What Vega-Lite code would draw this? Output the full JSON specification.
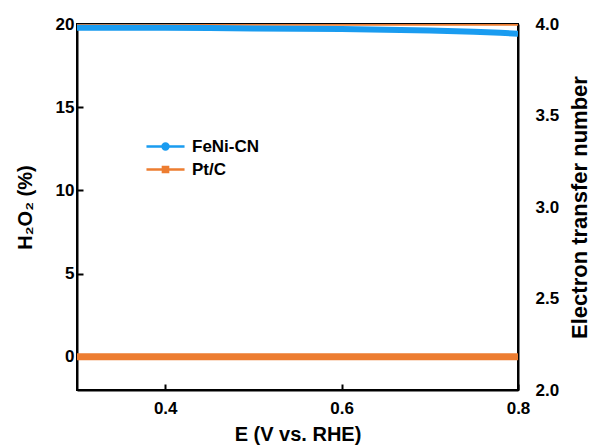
{
  "$schema": "https://vega.github.io/schema/vega-lite/v6.json",
  "width": 441,
  "height": 366,
  "autosize": {"type": "none"},
  "padding": {"left": 77, "top": 24, "right": 77, "bottom": 58},
  "background": "white",
  "config": {
    "font": "Liberation Sans",
    "view": {"stroke": "black", "strokeWidth": 2},
    "axis": {
      "grid": false,
      "domainColor": "black",
      "domainWidth": 2,
      "tickColor": "black",
      "tickWidth": 2,
      "labelFont": "Liberation Sans",
      "labelFontWeight": "bold",
      "labelFontSize": 17,
      "labelColor": "black",
      "titleFont": "Liberation Sans",
      "titleFontWeight": "bold",
      "titleFontSize": 20,
      "titleColor": "black"
    }
  },
  "data": {"name": "curves"},
  "datasets": {
    "curves": [
      {"catalyst": "Pt/C", "quantity": "n", "E": 0.30, "value": 3.999},
      {"catalyst": "Pt/C", "quantity": "n", "E": 0.40, "value": 3.999},
      {"catalyst": "Pt/C", "quantity": "n", "E": 0.50, "value": 3.999},
      {"catalyst": "Pt/C", "quantity": "n", "E": 0.60, "value": 3.999},
      {"catalyst": "Pt/C", "quantity": "n", "E": 0.70, "value": 3.999},
      {"catalyst": "Pt/C", "quantity": "n", "E": 0.80, "value": 3.998},
      {"catalyst": "FeNi-CN", "quantity": "n", "E": 0.30, "value": 3.980},
      {"catalyst": "FeNi-CN", "quantity": "n", "E": 0.35, "value": 3.980},
      {"catalyst": "FeNi-CN", "quantity": "n", "E": 0.40, "value": 3.979},
      {"catalyst": "FeNi-CN", "quantity": "n", "E": 0.45, "value": 3.978},
      {"catalyst": "FeNi-CN", "quantity": "n", "E": 0.50, "value": 3.976},
      {"catalyst": "FeNi-CN", "quantity": "n", "E": 0.55, "value": 3.974},
      {"catalyst": "FeNi-CN", "quantity": "n", "E": 0.60, "value": 3.972},
      {"catalyst": "FeNi-CN", "quantity": "n", "E": 0.65, "value": 3.969},
      {"catalyst": "FeNi-CN", "quantity": "n", "E": 0.70, "value": 3.965},
      {"catalyst": "FeNi-CN", "quantity": "n", "E": 0.75, "value": 3.958},
      {"catalyst": "FeNi-CN", "quantity": "n", "E": 0.78, "value": 3.952},
      {"catalyst": "FeNi-CN", "quantity": "n", "E": 0.80, "value": 3.947},
      {"catalyst": "Pt/C", "quantity": "H2O2", "E": 0.30, "value": 0.0},
      {"catalyst": "Pt/C", "quantity": "H2O2", "E": 0.40, "value": 0.0},
      {"catalyst": "Pt/C", "quantity": "H2O2", "E": 0.50, "value": 0.0},
      {"catalyst": "Pt/C", "quantity": "H2O2", "E": 0.60, "value": 0.0},
      {"catalyst": "Pt/C", "quantity": "H2O2", "E": 0.70, "value": 0.0},
      {"catalyst": "Pt/C", "quantity": "H2O2", "E": 0.80, "value": 0.0}
    ]
  },
  "encoding": {
    "x": {
      "field": "E",
      "type": "quantitative",
      "scale": {"domain": [0.3, 0.8], "nice": false, "zero": false},
      "axis": {
        "title": "E (V vs. RHE)",
        "values": [0.4, 0.6, 0.8],
        "format": ".1f",
        "tickSize": -6,
        "labelPadding": 16,
        "titlePadding": 8,
        "labelFlush": false
      }
    },
    "color": {
      "field": "catalyst",
      "type": "nominal",
      "scale": {"domain": ["FeNi-CN", "Pt/C"], "range": ["#1a9cf0", "#ed7d31"]},
      "legend": {
        "title": null,
        "orient": "none",
        "legendX": 73.5,
        "legendY": 107.5,
        "padding": 0,
        "symbolSize": 729,
        "symbolStrokeWidth": 2.5,
        "labelOffset": 11.5,
        "rowPadding": 0,
        "labelFont": "Liberation Sans",
        "labelFontWeight": "bold",
        "labelFontSize": 17,
        "labelColor": "black",
        "encode": {
          "symbols": {
            "update": {
              "shape": {"signal": "datum.value === 'FeNi-CN' ? 'M-1.41,0H1.41M0.22,0A0.22,0.22,0,1,1,-0.22,0A0.22,0.22,0,1,1,0.22,0Z' : 'M-1.41,0H1.41M-0.19,-0.19H0.19V0.19H-0.19Z'"},
              "fill": {"scale": "color", "field": "value"}
            }
          }
        }
      }
    }
  },
  "layer": [
    {
      "transform": [{"filter": "datum.catalyst === 'Pt/C' && datum.quantity === 'n'"}],
      "mark": {"type": "line", "strokeWidth": 3, "clip": true},
      "encoding": {
        "y": {"field": "value", "type": "quantitative", "scale": {"domain": [2, 4], "nice": false, "zero": false}, "axis": null}
      }
    },
    {
      "transform": [{"filter": "datum.catalyst === 'FeNi-CN' && datum.quantity === 'n'"}],
      "mark": {"type": "line", "strokeWidth": 6, "clip": true},
      "encoding": {
        "y": {
          "field": "value",
          "type": "quantitative",
          "scale": {"domain": [2, 4], "nice": false, "zero": false},
          "axis": {
            "orient": "right",
            "title": "Electron transfer number",
            "titleAngle": -90,
            "titleFontSize": 22,
            "titlePadding": 33,
            "values": [2.0, 2.5, 3.0, 3.5, 4.0],
            "format": ".1f",
            "ticks": false,
            "labelPadding": 17
          }
        }
      }
    },
    {
      "transform": [{"filter": "datum.catalyst === 'Pt/C' && datum.quantity === 'H2O2'"}],
      "mark": {"type": "line", "strokeWidth": 7, "clip": true},
      "encoding": {
        "y": {
          "field": "value",
          "type": "quantitative",
          "scale": {"domain": [-2, 20], "nice": false, "zero": false},
          "axis": {
            "orient": "left",
            "title": "H₂O₂ (%)",
            "values": [0, 5, 10, 15, 20],
            "tickSize": -6,
            "labelPadding": 9,
            "titlePadding": 20
          }
        }
      }
    }
  ],
  "resolve": {"scale": {"y": "independent"}}
}
